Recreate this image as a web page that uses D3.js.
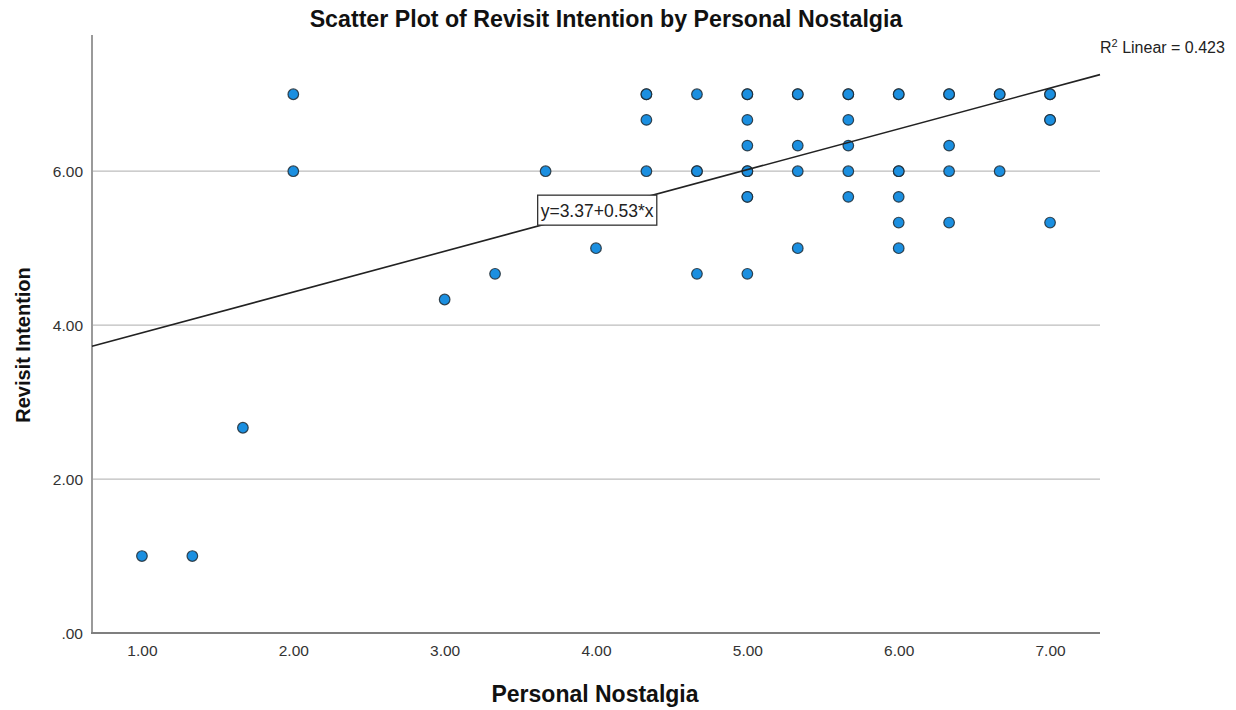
<!DOCTYPE html>
<html>
<head>
<meta charset="utf-8">
<script src="https://cdn.jsdelivr.net/npm/d3@7"></script>
<style>
  html, body { margin: 0; padding: 0; background: #fff; }
  svg { display: block; font-family: "Liberation Sans", Arial, sans-serif; }
</style>
</head>
<body>
<svg id="chart" width="1236" height="710"></svg>
<script>
// Respondent scores (1–7 scale, averaged items); repeated pairs are overlapping cases
const nostalgia = [
  1.00, 1.333, 1.667,
  2.00, 2.00,
  3.00, 3.333, 3.667, 4.00,
  4.333, 4.333, 4.333, 4.333,
  4.667, 4.667, 4.667, 4.667,
  5.00, 5.00, 5.00, 5.00, 5.00, 5.00, 5.00, 5.00, 5.00,
  5.333, 5.333, 5.333, 5.333, 5.333,
  5.667, 5.667, 5.667, 5.667, 5.667, 5.667,
  6.00, 6.00, 6.00, 6.00, 6.00, 6.00, 6.00,
  6.333, 6.333, 6.333, 6.333, 6.333,
  6.667, 6.667, 6.667,
  7.00, 7.00, 7.00, 7.00, 7.00
];
const revisit = [
  1.00, 1.00, 2.667,
  7.00, 6.00,
  4.333, 4.667, 6.00, 5.00,
  7.00, 7.00, 6.667, 6.00,
  7.00, 6.00, 6.00, 4.667,
  7.00, 7.00, 6.667, 6.333, 6.00, 6.00, 5.667, 5.667, 4.667,
  7.00, 7.00, 6.333, 6.00, 5.00,
  7.00, 7.00, 6.667, 6.333, 6.00, 5.667,
  7.00, 7.00, 6.00, 6.00, 5.667, 5.333, 5.00,
  7.00, 7.00, 6.333, 6.00, 5.333,
  7.00, 7.00, 6.00,
  7.00, 7.00, 6.667, 6.667, 5.333
];

// Linear fit reported for the sample
const fitIntercept = 3.37;
const fitSlope = 0.53;
const rSquared = 0.423;

const xTicks = [1, 2, 3, 4, 5, 6, 7];
const yTicks = [0, 2, 4, 6];

const titleText = "Scatter Plot of Revisit Intention by Personal Nostalgia";
const xTitle = "Personal Nostalgia";
const yTitle = "Revisit Intention";

const svg = d3.select("#chart");
const plot = { left: 92, right: 1100, top: 35, bottom: 633 };

const x = d3.scaleLinear().domain([0.67, 7.33]).range([plot.left, plot.right]);
const y = d3.scaleLinear().domain([0, 7.77]).range([plot.bottom, plot.top]);

// SPSS-style number format: ".00" for zero, "1.00" otherwise
const fmt = v => v === 0 ? ".00" : d3.format(".2f")(v);

// Horizontal reference lines
svg.append("g")
  .selectAll("line")
  .data(yTicks.filter(t => t > 0))
  .join("line")
  .attr("x1", plot.left).attr("x2", plot.right)
  .attr("y1", d => y(d)).attr("y2", d => y(d))
  .attr("stroke", "#bdbdbd").attr("stroke-width", 1.3);

// Axes
const yAxis = svg.append("g")
  .attr("transform", `translate(${plot.left},0)`)
  .call(d3.axisLeft(y).tickValues(yTicks).tickFormat(fmt).tickSize(0).tickPadding(9));
yAxis.select(".domain").remove();
yAxis.append("line")
  .attr("x1", 0).attr("x2", 0)
  .attr("y1", plot.top).attr("y2", plot.bottom)
  .attr("stroke", "#9a9a9a").attr("stroke-width", 2);

const xAxis = svg.append("g")
  .attr("transform", `translate(0,${plot.bottom})`)
  .call(d3.axisBottom(x).tickValues(xTicks).tickFormat(fmt).tickSize(0).tickPadding(12));
xAxis.select(".domain").remove();
xAxis.append("line")
  .attr("x1", plot.left - 1).attr("x2", plot.right)
  .attr("y1", 0).attr("y2", 0)
  .attr("stroke", "#7f7f7f").attr("stroke-width", 2);

svg.selectAll(".tick text")
  .attr("font-size", 15.5)
  .attr("fill", "#333")
  .attr("font-family", "Liberation Sans, Arial, sans-serif");
yAxis.selectAll(".tick text").attr("dy", "0.36em");

// Points
svg.append("g")
  .selectAll("circle")
  .data(d3.zip(nostalgia, revisit))
  .join("circle")
  .attr("cx", d => x(d[0]))
  .attr("cy", d => y(d[1]))
  .attr("r", 5.3)
  .attr("fill", "#1b8fe0")
  .attr("stroke", "#1e2a33")
  .attr("stroke-opacity", 0.85)
  .attr("stroke-width", 1.2);

// Fit line across the plot area
const fit = v => fitIntercept + fitSlope * v;
const [x0, x1] = x.domain();
svg.append("line")
  .attr("x1", x(x0)).attr("y1", y(fit(x0)))
  .attr("x2", x(x1)).attr("y2", y(fit(x1)))
  .attr("stroke", "#222").attr("stroke-width", 1.6);

// Equation label hanging from the line
const eqText = `y=${fitIntercept.toFixed(2)}+${fitSlope.toFixed(2)}*x`;
const eqX = 4.40;
const boxTop = y(fit(eqX)) + 1;
const boxRight = x(eqX);
const eqG = svg.append("g");
const eqLabel = eqG.append("text")
  .attr("font-size", 17.5)
  .attr("fill", "#222")
  .attr("text-anchor", "end")
  .attr("x", boxRight - 3)
  .attr("y", boxTop + 22)
  .text(eqText);
const bb = eqLabel.node().getBBox();
eqG.insert("rect", "text")
  .attr("x", bb.x - 3).attr("y", boxTop)
  .attr("width", bb.width + 6).attr("height", 30)
  .attr("fill", "#fff").attr("stroke", "#333").attr("stroke-width", 1.3);

// R-squared annotation
const r2 = svg.append("text")
  .attr("x", 1100).attr("y", 53)
  .attr("font-size", 16).attr("fill", "#222");
r2.append("tspan").text("R");
r2.append("tspan").attr("dy", -6).attr("font-size", 11).text("2");
r2.append("tspan").attr("dy", 6).text(` Linear = ${rSquared}`);

// Titles
svg.append("text")
  .attr("x", 606).attr("y", 27)
  .attr("text-anchor", "middle")
  .attr("font-size", 23.2).attr("font-weight", "bold").attr("fill", "#111")
  .text(titleText);

svg.append("text")
  .attr("x", 595).attr("y", 702)
  .attr("text-anchor", "middle")
  .attr("font-size", 23).attr("font-weight", "bold").attr("fill", "#111")
  .text(xTitle);

svg.append("text")
  .attr("transform", "translate(30,345) rotate(-90)")
  .attr("text-anchor", "middle")
  .attr("font-size", 20).attr("font-weight", "bold").attr("fill", "#111")
  .text(yTitle);
</script>
</body>
</html>
